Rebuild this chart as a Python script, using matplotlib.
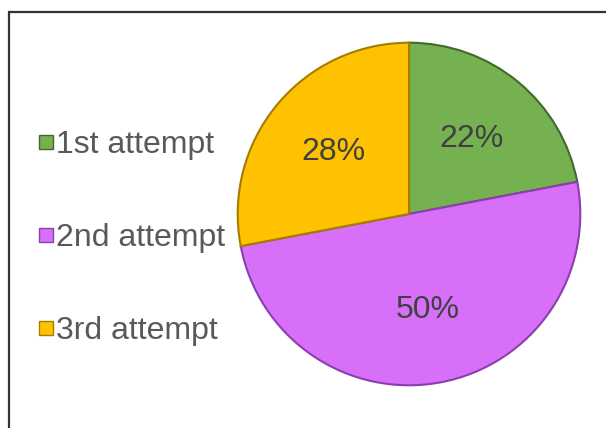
import matplotlib.pyplot as plt
from matplotlib.patches import Rectangle
from matplotlib.lines import Line2D

labels = ['1st attempt', '2nd attempt', '3rd attempt']
shares = [22, 50, 28]
colors = ['#76b151', '#d86ff9', '#ffc200']
edges = ['#3f6a28', '#8a3fb0', '#a67c00']

plt.rcParams['font.family'] = ['Liberation Sans', 'DejaVu Sans']

fig = plt.figure(figsize=(6.06, 4.28), dpi=100)

# outer frame, runs off the right and bottom edges like the original
fig.patches.append(Rectangle((9 / 606, -0.1), 1.2, 1 - 12 / 428 + 0.1,
                             transform=fig.transFigure, fill=False,
                             edgecolor='#333333', linewidth=1.6))

ax = fig.add_axes([236 / 606, 41 / 428, 346 / 606, 346 / 428])
wedges, texts, pcts = ax.pie(shares, colors=colors, startangle=90,
                             counterclock=False, autopct='%1.0f%%',
                             pctdistance=0.57,
                             wedgeprops=dict(linewidth=1.5),
                             textprops=dict(fontsize=23, color='#404040'))
for w, e in zip(wedges, edges):
    w.set_edgecolor(e)
ax.set_xlim(-1.01, 1.01)
ax.set_ylim(-1.01, 1.01)
ax.set_aspect('equal')

handles = [Line2D([], [], marker='s', linestyle='none', markersize=9.5,
                  markerfacecolor=c, markeredgecolor=e, markeredgewidth=1)
           for c, e in zip(colors, edges)]
fig.legend(handles, labels, loc='center left', bbox_to_anchor=(21 / 606, 0.443),
           frameon=False, fontsize=23, labelcolor='#595959',
           handlelength=0.55, handletextpad=0.05, labelspacing=1.97,
           borderpad=0)

fig.savefig('out.png', dpi=100)
